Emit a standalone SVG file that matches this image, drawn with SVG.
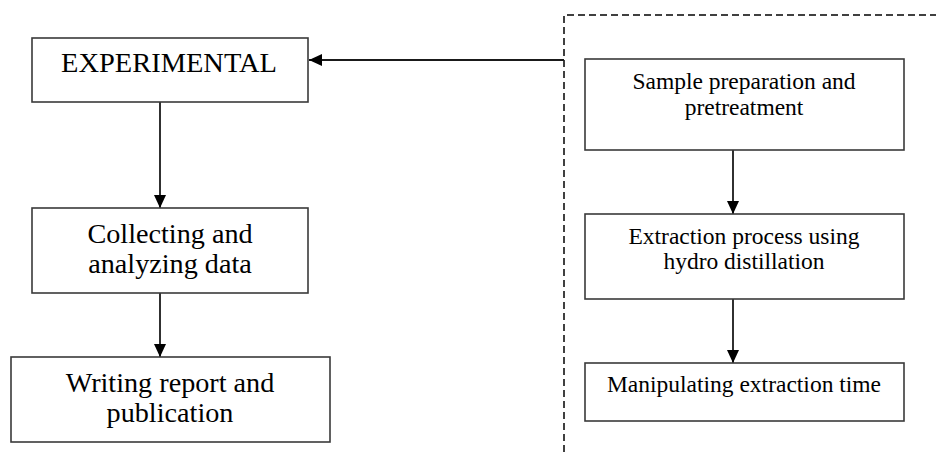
<svg xmlns="http://www.w3.org/2000/svg" width="936" height="452" viewBox="0 0 936 452">
<style>
.box{fill:#fff;stroke:#3a3a3a;stroke-width:1.6}
.t{font-family:"Liberation Serif","Times New Roman",serif;fill:#000;text-anchor:middle}
.big{font-size:28.2px}
.sm{font-size:23.5px}
.conn{stroke:#1a1a1a;stroke-width:1.8;fill:none}
.dash{stroke:#404040;stroke-width:2;fill:none;stroke-dasharray:7 4}
</style>
<defs>
<marker id="ah" viewBox="0 0 13 12" refX="13" refY="6" markerWidth="13" markerHeight="12" markerUnits="userSpaceOnUse" orient="auto">
<path d="M0,0 L13,6 L0,12 Z" fill="#000"/>
</marker>
</defs>
<rect width="936" height="452" fill="#fff"/>
<g id="connectors">
<path class="dash" d="M564,452 L564,15 L936,15"/>
<line class="conn" x1="564" y1="60" x2="309" y2="60" marker-end="url(#ah)"/>
<line class="conn" x1="160" y1="102" x2="160" y2="208" marker-end="url(#ah)"/>
<line class="conn" x1="160" y1="293" x2="160" y2="357" marker-end="url(#ah)"/>
<line class="conn" x1="733" y1="150" x2="733" y2="214" marker-end="url(#ah)"/>
<line class="conn" x1="733" y1="299" x2="733" y2="363" marker-end="url(#ah)"/>
</g>
<g id="experimental">
<rect class="box" x="32" y="38" width="276" height="64"/>
<text class="t big" x="169" y="72" textLength="216" lengthAdjust="spacingAndGlyphs">EXPERIMENTAL</text>
</g>
<g id="collecting">
<rect class="box" x="32" y="208" width="276" height="85"/>
<text class="t big" x="170" y="243">Collecting and</text>
<text class="t big" x="170" y="273">analyzing data</text>
</g>
<g id="writing">
<rect class="box" x="11" y="357" width="319" height="85"/>
<text class="t big" x="170" y="392">Writing report and</text>
<text class="t big" x="170" y="422">publication</text>
</g>
<g id="sample">
<rect class="box" x="585" y="59" width="319" height="91"/>
<text class="t sm" x="744" y="89">Sample preparation and</text>
<text class="t sm" x="744" y="115">pretreatment</text>
</g>
<g id="extraction">
<rect class="box" x="585" y="214" width="319" height="85"/>
<text class="t sm" x="744" y="244">Extraction process using</text>
<text class="t sm" x="744" y="269">hydro distillation</text>
</g>
<g id="manipulating">
<rect class="box" x="585" y="363" width="319" height="58"/>
<text class="t sm" x="744" y="392">Manipulating extraction time</text>
</g>
</svg>
